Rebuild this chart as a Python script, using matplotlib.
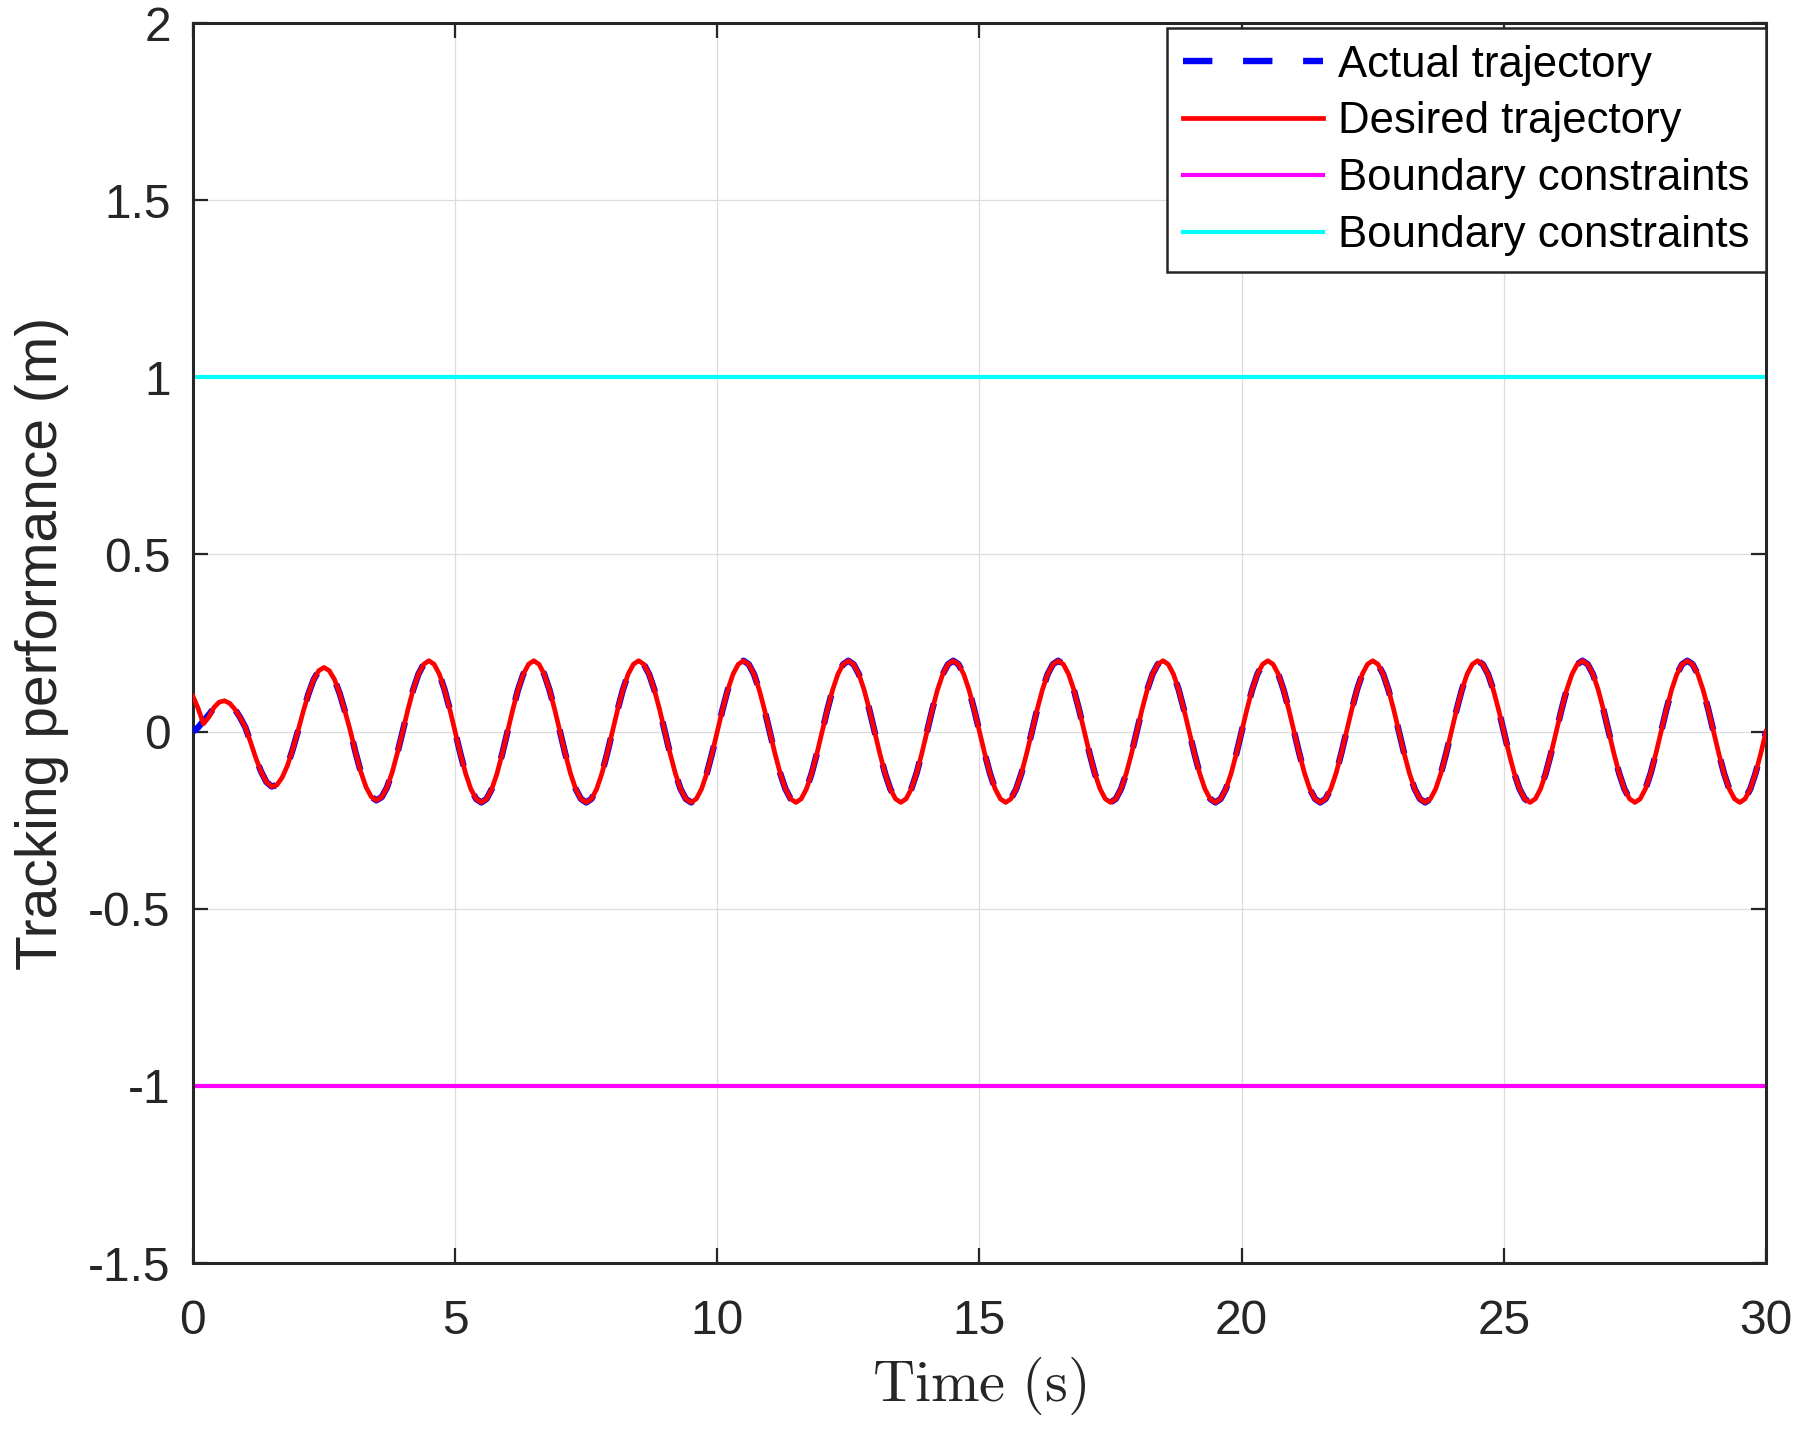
import numpy as np
import matplotlib
matplotlib.use("Agg")
import matplotlib.pyplot as plt

plt.rcParams["font.family"] = ["Liberation Sans", "DejaVu Sans"]
plt.rcParams["mathtext.fontset"] = "cm"

T_STEP = 0.1

desired = [
    # 0.0 – 1.9 s : start-up transient
    0.100, 0.065, 0.022, 0.040, 0.068, 0.083, 0.087, 0.080, 0.063, 0.040,
    0.012, -0.030, -0.075, -0.113, -0.142, -0.155, -0.151, -0.130, -0.097, -0.052,
    # 2.0 – 3.9 s
    0.000, 0.055, 0.105, 0.146, 0.172, 0.181, 0.172, 0.147, 0.107, 0.057,
    0.003, -0.058, -0.113, -0.156, -0.184, -0.194, -0.185, -0.158, -0.115, -0.060,
    # 4.0 – 5.9 s
    0.000, 0.062, 0.118, 0.162, 0.190, 0.200, 0.190, 0.162, 0.118, 0.062,
    0.000, -0.062, -0.118, -0.162, -0.190, -0.200, -0.190, -0.162, -0.118, -0.062,
    # 6.0 – 7.9 s
    0.000, 0.062, 0.118, 0.162, 0.190, 0.200, 0.190, 0.162, 0.118, 0.062,
    0.000, -0.062, -0.118, -0.162, -0.190, -0.200, -0.190, -0.162, -0.118, -0.062,
    # 8.0 – 9.9 s
    0.000, 0.062, 0.118, 0.162, 0.190, 0.200, 0.190, 0.162, 0.118, 0.062,
    0.000, -0.062, -0.118, -0.162, -0.190, -0.200, -0.190, -0.162, -0.118, -0.062,
    # 10.0 – 11.9 s
    0.000, 0.062, 0.118, 0.162, 0.190, 0.200, 0.190, 0.162, 0.118, 0.062,
    0.000, -0.062, -0.118, -0.162, -0.190, -0.200, -0.190, -0.162, -0.118, -0.062,
    # 12.0 – 13.9 s
    0.000, 0.062, 0.118, 0.162, 0.190, 0.200, 0.190, 0.162, 0.118, 0.062,
    0.000, -0.062, -0.118, -0.162, -0.190, -0.200, -0.190, -0.162, -0.118, -0.062,
    # 14.0 – 15.9 s
    0.000, 0.062, 0.118, 0.162, 0.190, 0.200, 0.190, 0.162, 0.118, 0.062,
    0.000, -0.062, -0.118, -0.162, -0.190, -0.200, -0.190, -0.162, -0.118, -0.062,
    # 16.0 – 17.9 s
    0.000, 0.062, 0.118, 0.162, 0.190, 0.200, 0.190, 0.162, 0.118, 0.062,
    0.000, -0.062, -0.118, -0.162, -0.190, -0.200, -0.190, -0.162, -0.118, -0.062,
    # 18.0 – 19.9 s
    0.000, 0.062, 0.118, 0.162, 0.190, 0.200, 0.190, 0.162, 0.118, 0.062,
    0.000, -0.062, -0.118, -0.162, -0.190, -0.200, -0.190, -0.162, -0.118, -0.062,
    # 20.0 – 21.9 s
    0.000, 0.062, 0.118, 0.162, 0.190, 0.200, 0.190, 0.162, 0.118, 0.062,
    0.000, -0.062, -0.118, -0.162, -0.190, -0.200, -0.190, -0.162, -0.118, -0.062,
    # 22.0 – 23.9 s
    0.000, 0.062, 0.118, 0.162, 0.190, 0.200, 0.190, 0.162, 0.118, 0.062,
    0.000, -0.062, -0.118, -0.162, -0.190, -0.200, -0.190, -0.162, -0.118, -0.062,
    # 24.0 – 25.9 s
    0.000, 0.062, 0.118, 0.162, 0.190, 0.200, 0.190, 0.162, 0.118, 0.062,
    0.000, -0.062, -0.118, -0.162, -0.190, -0.200, -0.190, -0.162, -0.118, -0.062,
    # 26.0 – 27.9 s
    0.000, 0.062, 0.118, 0.162, 0.190, 0.200, 0.190, 0.162, 0.118, 0.062,
    0.000, -0.062, -0.118, -0.162, -0.190, -0.200, -0.190, -0.162, -0.118, -0.062,
    # 28.0 – 29.9 s
    0.000, 0.062, 0.118, 0.162, 0.190, 0.200, 0.190, 0.162, 0.118, 0.062,
    0.000, -0.062, -0.118, -0.162, -0.190, -0.200, -0.190, -0.162, -0.118, -0.062,
    # 30.0 s
    0.000,
]

# actual trajectory starts at 0 and sits on the desired one after ~0.6 s
actual_start = [0.000, 0.012, 0.030, 0.047, 0.066, 0.082]
actual = actual_start + desired[len(actual_start):]

upper_bound = 1.0
lower_bound = -1.0

x_ticks = [0, 5, 10, 15, 20, 25, 30]
y_ticks = [-1.5, -1, -0.5, 0, 0.5, 1, 1.5, 2]
y_tick_labels = ["-1.5", "-1", "-0.5", "0", "0.5", "1", "1.5", "2"]

# ── plot ──────────────────────────────────────────────────────────────────────
t = np.round(np.arange(len(desired)) * T_STEP, 1)
AX_COLOR = "#262626"

fig = plt.figure(figsize=(17.98, 14.31), dpi=100)
ax = fig.add_axes([0.1073, 0.1174, 0.8749, 0.8665])

ax.plot(t, actual, color="blue", linewidth=4.6, linestyle=(0, (4.6, 4.8)),
        label="Actual trajectory", zorder=3)
ax.plot(t, desired, color="red", linewidth=3.4, label="Desired trajectory", zorder=4)
ax.axhline(lower_bound, color="magenta", linewidth=3.0, label="Boundary constraints", zorder=2)
ax.axhline(upper_bound, color="cyan", linewidth=3.0, label="Boundary constraints", zorder=2)

ax.set_xlim(0, 30)
ax.set_ylim(-1.5, 2)
ax.set_xticks(x_ticks)
ax.set_yticks(y_ticks)
ax.set_yticklabels(y_tick_labels)

ax.grid(True, color="#dcdcdc", linewidth=0.9)
ax.set_axisbelow(True)
for sp in ax.spines.values():
    sp.set_color(AX_COLOR)
    sp.set_linewidth(2.2)

ax.tick_params(axis="both", which="major", direction="in", length=11, width=1.6,
               colors=AX_COLOR, labelsize=34.5, top=True, right=True)
ax.tick_params(axis="x", pad=26)
ax.tick_params(axis="y", pad=16)

ax.set_xlabel(r"$\mathrm{Time\ (s)}$", fontsize=42, labelpad=8, color=AX_COLOR)
ax.set_ylabel("Tracking performance (m)", fontsize=41, labelpad=14, color=AX_COLOR)

leg = ax.legend(loc="upper right", bbox_to_anchor=(1.0, 0.996), fontsize=31.5,
                frameon=True, fancybox=False, framealpha=1, edgecolor=AX_COLOR,
                handlelength=3.2, handletextpad=0.33, labelspacing=0.36,
                borderpad=0.38, borderaxespad=0.0)
leg.get_frame().set_linewidth(1.8)

fig.savefig("out.png", dpi=100, facecolor="white")
